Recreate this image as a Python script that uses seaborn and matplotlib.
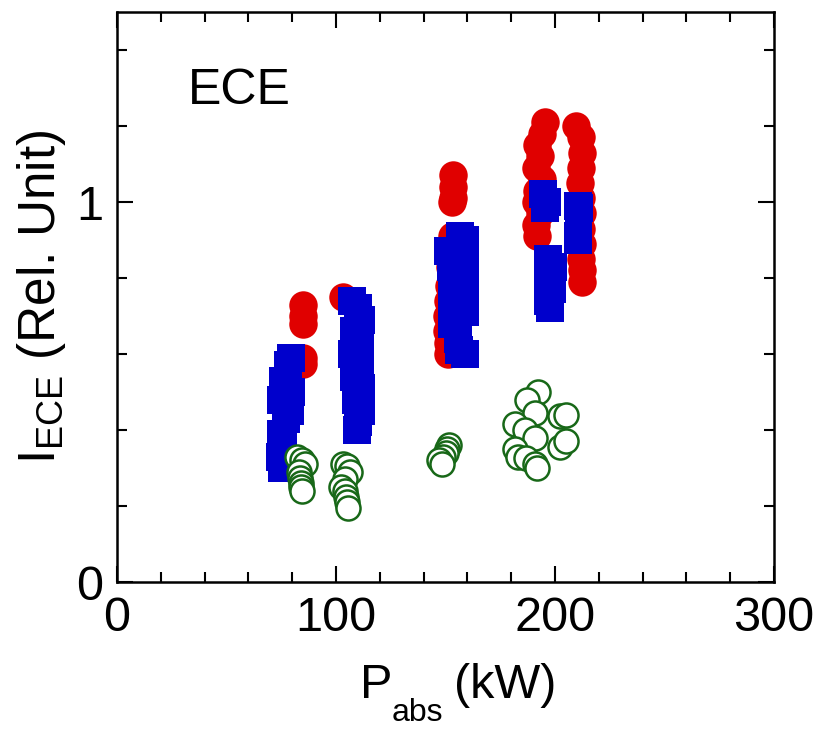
import pandas as pd
import matplotlib.pyplot as plt
import seaborn as sns
from matplotlib.ticker import MultipleLocator

# ECE intensity vs absorbed power
red_x = [85, 85, 85, 85, 85,
         103,
         153.5, 153.5, 153.5, 153,
         153, 152, 152, 151.5, 151, 150.5, 150.5, 151, 151,
         195.5, 194, 192, 193, 191.5, 194, 192, 191.5, 193, 191.5, 192,
         209.5, 212, 212.5, 212, 211.5, 212, 212.5, 212, 212.5, 212, 212.5, 212.3]
red_y = [0.73, 0.70, 0.68, 0.59, 0.575,
         0.75,
         1.07, 1.04, 1.01, 1.00,
         0.91, 0.87, 0.83, 0.78, 0.74, 0.70, 0.66, 0.63, 0.60,
         1.21, 1.18, 1.15, 1.12, 1.09, 1.06, 1.03, 1.00, 0.97, 0.94, 0.91,
         1.20, 1.17, 1.13, 1.09, 1.05, 1.01, 0.97, 0.93, 0.89, 0.85, 0.82, 0.79]

blue_x = [79.5, 78, 76, 79.5, 75, 79, 77, 75, 76, 74.5, 75.5,
          107.5, 110, 111.5, 108, 111, 107.5, 111, 108, 111.5, 109, 111.5, 110, 109.5,
          156.5, 159, 151, 159, 152.5, 159, 153, 159, 153, 159, 153, 155.5, 156, 159,
          194.5, 196.5, 195.5, 210.5, 211, 210.5, 210.5, 197, 199, 197, 198.5, 197, 197.5]
blue_y = [0.59, 0.57, 0.53, 0.50, 0.48, 0.45, 0.43, 0.39, 0.36, 0.33, 0.30,
          0.74, 0.72, 0.69, 0.66, 0.63, 0.60, 0.57, 0.54, 0.51, 0.48, 0.45, 0.42, 0.40,
          0.91, 0.90, 0.87, 0.86, 0.83, 0.80, 0.77, 0.75, 0.73, 0.71, 0.68, 0.64, 0.61, 0.60,
          1.02, 1.00, 0.985, 0.99, 0.985, 0.91, 0.90, 0.85, 0.83, 0.80, 0.77, 0.74, 0.72]

green_x = [82, 84.5, 86, 83, 83.5, 84, 84, 84.5,
           103, 105, 106.5, 104, 102.5, 104, 104.5, 105, 105.5,
           151.5, 150.5, 150, 149, 147, 148.5,
           192.3, 187.2, 190.8, 202.5, 204.8, 181.7, 186.3, 190.8, 202.5, 205,
           181.7, 183, 186.8, 190.8, 191.8]
green_y = [0.33, 0.32, 0.31, 0.29, 0.275, 0.26, 0.25, 0.24,
           0.31, 0.305, 0.29, 0.27, 0.25, 0.24, 0.225, 0.21, 0.195,
           0.36, 0.35, 0.34, 0.33, 0.32, 0.31,
           0.50, 0.48, 0.445, 0.437, 0.44, 0.415, 0.40, 0.38, 0.354, 0.37,
           0.35, 0.33, 0.327, 0.31, 0.30]

red_df = pd.DataFrame({'P': red_x, 'I': red_y})
blue_df = pd.DataFrame({'P': blue_x, 'I': blue_y})
green_df = pd.DataFrame({'P': green_x, 'I': green_y})

sns.set_style("white")
plt.rcParams['font.family'] = ['Liberation Sans', 'DejaVu Sans']
plt.rcParams['mathtext.default'] = 'regular'
plt.rcParams['text.color'] = 'black'
plt.rcParams['axes.labelcolor'] = 'black'

fig = plt.figure(figsize=(8.27, 7.29), dpi=100)
ax = fig.add_axes([117 / 827, 1 - 582 / 729, 657 / 827, 570 / 729])

sns.scatterplot(x='P', y='I', data=red_df, marker='o', s=420, color='#e00000',
                linewidth=0, ax=ax)
sns.scatterplot(x='P', y='I', data=blue_df, marker='s', s=420, color='#0000cc',
                linewidth=0, ax=ax)
sns.scatterplot(x='P', y='I', data=green_df, marker='o', s=300, color='white',
                edgecolor='#186818', linewidth=1.8, ax=ax)

ax.set_xlim(0, 300)
ax.set_ylim(0, 1.5)
ax.xaxis.set_major_locator(MultipleLocator(100))
ax.xaxis.set_minor_locator(MultipleLocator(20))
ax.yaxis.set_major_locator(MultipleLocator(1))
ax.yaxis.set_minor_locator(MultipleLocator(0.2))
ax.xaxis.set_major_formatter(plt.FuncFormatter(lambda v, p: f'{v:.0f}'))
ax.yaxis.set_major_formatter(plt.FuncFormatter(lambda v, p: f'{v:.0f}'))

ax.tick_params(which='both', direction='in', bottom=True, left=True, top=True,
               right=True, width=1.5, colors='black', labelsize=35)
ax.tick_params(which='major', length=11.5, pad=10)
ax.tick_params(which='minor', length=7)
for sp in ax.spines.values():
    sp.set_linewidth(1.8)
    sp.set_color('black')

# x label with a deep subscript, as in the original
ax.set_xlabel('')
fig.text(360 / 827, 1 - 698 / 729, 'P', fontsize=35, va='baseline', ha='left')
fig.text(392 / 827, 1 - 721 / 729, 'abs', fontsize=23, va='baseline', ha='left')
fig.text(454 / 827, 1 - 698 / 729, '(kW)', fontsize=35, va='baseline', ha='left')

ax.set_ylabel(r'I$_{ECE}$ (Rel. Unit)', fontsize=37, labelpad=6)
ax.text(0.108, 0.839, 'ECE', transform=ax.transAxes, fontsize=36, va='baseline')

fig.savefig('out.png', dpi=100)
